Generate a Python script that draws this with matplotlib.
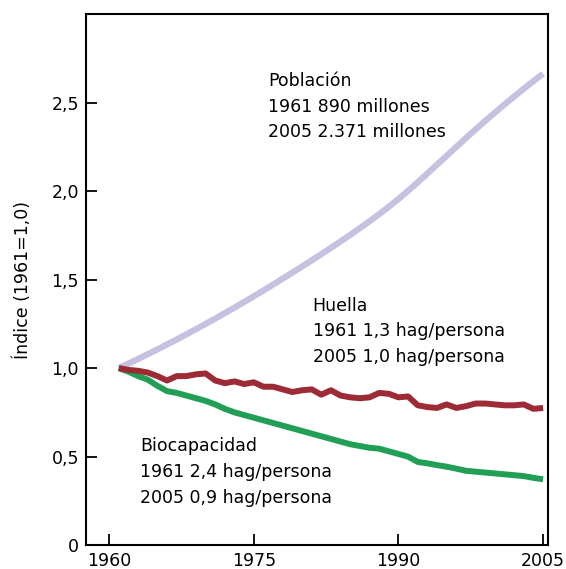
import matplotlib
matplotlib.use("Agg")
import matplotlib.pyplot as plt

plt.rcParams['font.family'] = ['DejaVu Sans']

# años 1961-2005
anios = list(range(1961, 2006))

poblacion = [1.000, 1.026, 1.052, 1.079, 1.106, 1.134, 1.162, 1.191, 1.220, 1.250,
             1.280, 1.311, 1.342, 1.374, 1.406, 1.439, 1.472, 1.506, 1.540, 1.574,
             1.609, 1.644, 1.680, 1.716, 1.753, 1.791, 1.830, 1.870, 1.912, 1.956,
             2.002, 2.050, 2.100, 2.150, 2.200, 2.250, 2.300, 2.349, 2.397, 2.444,
             2.490, 2.535, 2.579, 2.622, 2.664]

huella = [1.000, 0.990, 0.985, 0.975, 0.955, 0.930, 0.955, 0.955, 0.965, 0.970,
          0.930, 0.915, 0.925, 0.910, 0.920, 0.895, 0.895, 0.880, 0.865, 0.875,
          0.880, 0.850, 0.875, 0.845, 0.835, 0.830, 0.835, 0.860, 0.855, 0.835,
          0.840, 0.790, 0.780, 0.775, 0.795, 0.775, 0.785, 0.800, 0.800, 0.795,
          0.790, 0.790, 0.795, 0.770, 0.775]

biocapacidad = [1.000, 0.980, 0.955, 0.935, 0.900, 0.870, 0.860, 0.845, 0.830, 0.815,
                0.795, 0.770, 0.750, 0.735, 0.720, 0.705, 0.690, 0.675, 0.660, 0.645,
                0.630, 0.615, 0.600, 0.585, 0.570, 0.560, 0.550, 0.545, 0.530, 0.515,
                0.500, 0.470, 0.462, 0.452, 0.443, 0.432, 0.420, 0.415, 0.410, 0.405,
                0.400, 0.395, 0.390, 0.380, 0.372]

xticks = [1960, 1975, 1990, 2005]
yticks = [0, 0.5, 1.0, 1.5, 2.0, 2.5]
ytick_labels = ['0', '0,5', '1,0', '1,5', '2,0', '2,5']

fig = plt.figure(figsize=(5.66, 5.69), dpi=100)
ax = fig.add_axes([0.152, 0.042, 0.816, 0.933])

ax.plot(anios, poblacion, color='#c6c1e0', lw=4.5, solid_capstyle='butt')
ax.plot(anios, biocapacidad, color='#21a055', lw=4.3, solid_capstyle='butt')
ax.plot(anios, huella, color='#9c2b36', lw=4.3, solid_capstyle='butt')

ax.set_xlim(1957.6, 2005.5)
ax.set_ylim(0, 3.0)
ax.set_xticks(xticks)
ax.set_xticklabels([str(t) for t in xticks])
ax.set_yticks(yticks)
ax.set_yticklabels(ytick_labels)
ax.tick_params(direction='in', length=8, width=1.3, labelsize=12.5, pad=5)
for s in ax.spines.values():
    s.set_linewidth(1.5)

ax.set_ylabel('Índice (1961=1,0)', fontsize=12.5, labelpad=14)

ax.text(1976.5, 2.477, 'Población\n1961 890 millones\n2005 2.371 millones',
        fontsize=12.5, va='center', ha='left', linespacing=1.55)
ax.text(1981.1, 1.208, 'Huella\n1961 1,3 hag/persona\n2005 1,0 hag/persona',
        fontsize=12.5, va='center', ha='left', linespacing=1.55)
ax.text(1963.2, 0.412, 'Biocapacidad\n1961 2,4 hag/persona\n2005 0,9 hag/persona',
        fontsize=12.5, va='center', ha='left', linespacing=1.55)

plt.savefig('out.png', dpi=100)
